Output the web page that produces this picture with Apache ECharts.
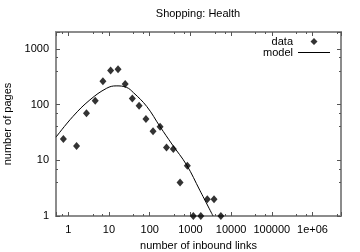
<!DOCTYPE html>
<html>
<head>
<meta charset="utf-8">
<script src="https://cdn.jsdelivr.net/npm/echarts@6/dist/echarts.min.js"></script>
<style>html,body{margin:0;padding:0;background:#fff}#c{width:360px;height:252px}</style>
</head>
<body>
<div id="c"></div>
<script>
const titleText = 'Shopping: Health';
const xName = 'number of inbound links';
const yName = 'number of pages';
const xTickLabels = ['1', '10', '100', '1000', '10000', '100000', '1e+06'];
const yTickLabels = ['1', '10', '100', '1000'];
const dataX = [0.76, 1.6, 2.8, 4.6, 7.1, 11, 16.7, 25, 37.5, 55, 81, 121, 180, 259, 381, 557, 841, 1180, 1800, 2600, 3800, 5600];
const dataY = [24, 18, 70, 117, 262, 406, 430, 234, 128, 95, 55, 33, 40, 17, 16, 4, 8, 1, 1, 2, 2, 1];
const modelX = [0.5, 1.3, 3.4, 8.8, 15, 27, 40, 85, 180, 350, 810, 1700, 3600];
const modelY = [26, 61, 121, 196, 216, 203, 163, 92, 40, 19.6, 8.2, 2.9, 1];

const FONT = 'Liberation Sans, Arial, sans-serif';
const fmt = (labels) => (v) => {
  const l = Math.log10(v), e = Math.round(l);
  if (Math.abs(l - e) > 1e-6) return '';
  return labels[e] !== undefined ? labels[e] : '';
};
const tickStyle = { color: '#555', width: 1 };
function axis(base, extra) { return Object.assign({}, base, extra); }
const xBase = {
  type: 'log', logBase: 10, min: 0.5, max: 5e6, splitNumber: 7,
  splitLine: { show: false }, axisLine: { show: false },
  axisTick: { show: true, inside: true, length: 4, lineStyle: tickStyle },
  minorTick: { show: true, splitNumber: 3, length: 2, lineStyle: tickStyle },
  minorSplitLine: { show: false }
};
const yBase = {
  type: 'log', logBase: 10, min: 1, max: 2000, splitNumber: 3,
  splitLine: { show: false }, axisLine: { show: false },
  axisTick: { show: true, inside: true, length: 4, lineStyle: tickStyle },
  minorTick: { show: true, splitNumber: 3, length: 2, lineStyle: tickStyle },
  minorSplitLine: { show: false }
};
// legend icons: bounding corners keep the box at itemWidth x itemHeight
const diamondIcon = 'path://M0,0L0.01,0L0,0.01Z M32,8L31.99,8L32,7.99Z M16,0.5L19.5,4L16,7.5L12.5,4Z';
const lineIcon = 'path://M0,0L0.01,0L0,0.01Z M32,8L31.99,8L32,7.99Z M0,3.5L32,3.5L32,4.5L0,4.5Z';
const chart = echarts.init(document.getElementById('c'), null, { renderer: 'canvas' });
chart.setOption({
  animation: false,
  backgroundColor: '#fff',
  textStyle: { fontFamily: FONT },
  title: {
    text: titleText, left: 198, top: 8, textAlign: 'center', padding: 0,
    textStyle: { fontSize: 11, fontWeight: 'normal', color: '#000', fontFamily: FONT }
  },
  grid: { left: 56, right: 19, top: 32, bottom: 36, show: true, borderColor: '#8c8c8c', borderWidth: 2, containLabel: false, outerBoundsMode: 'none' },
  legend: {
    orient: 'vertical', right: 30, top: 36, align: 'right', padding: 0,
    itemWidth: 32, itemHeight: 8, itemGap: 0, symbolKeepAspect: false,
    textStyle: { fontSize: 11, color: '#000', fontFamily: FONT, lineHeight: 11 },
    data: [{ name: 'data', icon: diamondIcon }, { name: 'model', icon: lineIcon }]
  },
  xAxis: [
    axis(xBase, {
      position: 'bottom',
      name: xName, nameLocation: 'middle', nameGap: 24,
      nameTextStyle: { fontSize: 11, color: '#000', fontFamily: FONT },
      axisLabel: { show: true, margin: 8, fontSize: 11, color: '#000', fontFamily: FONT, formatter: fmt(xTickLabels) }
    }),
    axis(xBase, { position: 'top', axisLabel: { show: false } })
  ],
  yAxis: [
    axis(yBase, {
      position: 'left',
      name: yName, nameLocation: 'middle', nameGap: 41, nameRotate: 90,
      nameTextStyle: { fontSize: 11, color: '#000', fontFamily: FONT },
      axisLabel: { show: true, margin: 7, fontSize: 11, color: '#000', fontFamily: FONT, formatter: fmt(yTickLabels) }
    }),
    axis(yBase, { position: 'right', axisLabel: { show: false } })
  ],
  series: [
    {
      name: 'data', type: 'scatter', xAxisIndex: 0, yAxisIndex: 0,
      symbol: 'diamond', symbolSize: [7, 8],
      itemStyle: { color: '#000' },
      data: dataX.map((x, i) => [x, dataY[i]])
    },
    {
      name: 'model', type: 'line', xAxisIndex: 0, yAxisIndex: 0,
      symbol: 'none', smooth: 0.4,
      lineStyle: { color: '#000', width: 1 },
      itemStyle: { color: '#000' },
      data: modelX.map((x, i) => [x, modelY[i]])
    }
  ]
});
</script>
</body>
</html>
